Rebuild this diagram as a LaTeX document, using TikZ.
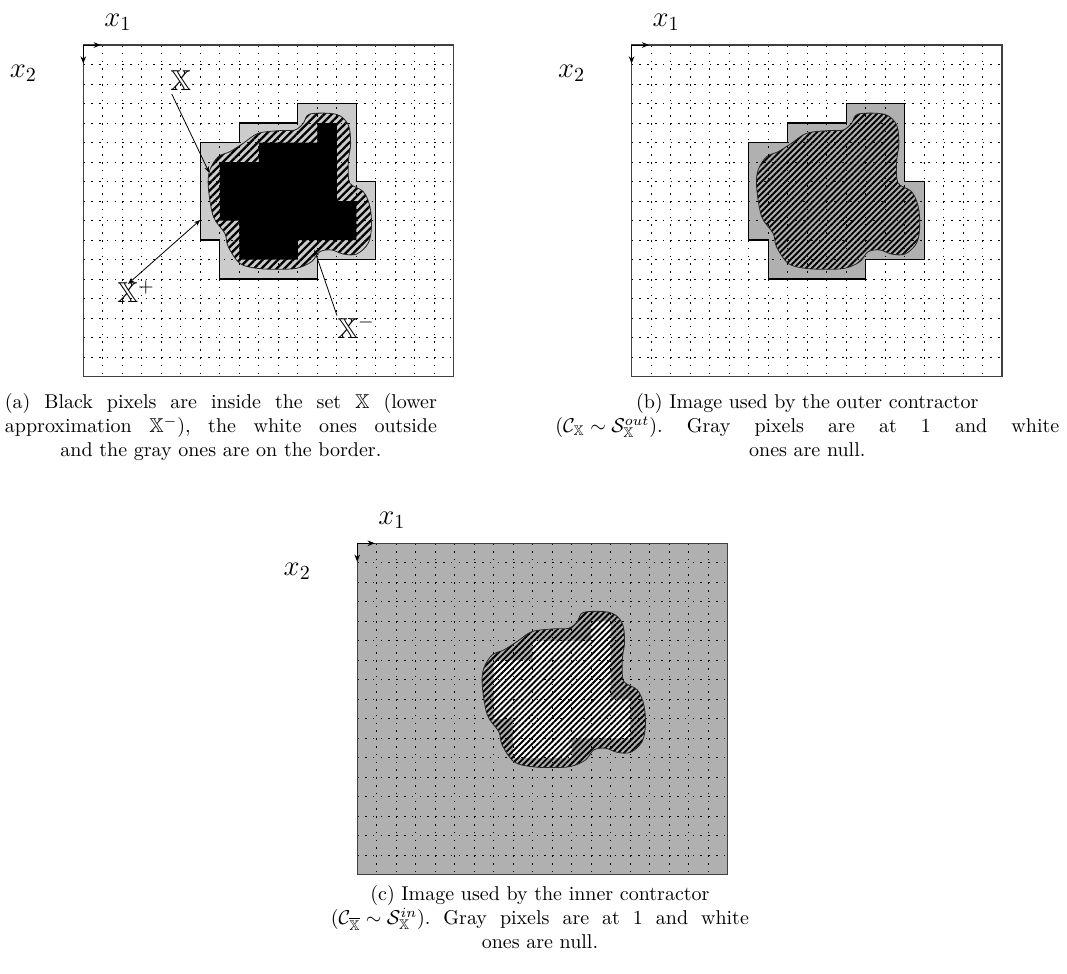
\documentclass[tikz,border=0pt]{standalone}
\usepackage{amsmath,amssymb}
\usepackage{xcolor}
\usepackage{tikz}
\usetikzlibrary{arrows.meta, patterns.meta}

\newcommand{\outerpix}{(11,3) -- (14,3) -- (14,7) -- (15,7) -- (15,11) -- (12,11) -- (12,12) -- (7,12) -- (7,10) -- (6,10) -- (6,5) -- (8,5) -- (8,4) -- (11,4) -- cycle}
\newcommand{\innerpix}{(12,4) -- (13,4) -- (13,8) -- (14,8) -- (14,10) -- (11,10) -- (11,11) -- (8,11) -- (8,9) -- (7,9) -- (7,6) -- (9,6) -- (9,5) -- (12,5) -- cycle}
\newcommand{\setblob}{plot[smooth cycle, tension=0.55] coordinates {(11.62,3.54) (12.99,3.56) (13.59,4.10) (13.71,5.04) (13.62,5.70) (13.59,6.24) (13.67,7.09) (14.36,7.52) (14.70,8.29) (14.78,9.32) (14.61,10.17) (14.02,10.72) (13.33,10.72) (12.73,10.51) (12.13,10.60) (11.71,11.11) (10.94,11.45) (9.90,11.50) (8.89,11.45) (8.03,11.20) (7.43,10.34) (7.26,9.66) (6.67,8.80) (6.41,7.27) (6.49,6.41) (6.92,5.73) (7.52,5.47) (8.20,5.04) (8.97,4.53) (10.09,4.39) (10.85,4.36) (11.28,4.02)}}

\begin{document}
\begin{tikzpicture}[x=9.75pt, y=-9.75pt,
  gridline/.style={line width=0.45pt, dash pattern=on 0.8pt off 3.1pt},
  frame/.style={draw=black!75, line width=0.65pt},
  axis/.style={-{Stealth[length=3.6pt, width=2.8pt]}, line width=0.5pt},
  pixedge/.style={draw=black, line width=0.55pt},
  hatch/.style={pattern={Lines[angle=45, distance=2.1pt, line width=0.95pt]}, draw=black!85, line width=0.4pt},
  coarsehatch/.style={pattern={Lines[angle=45, distance=2.7pt, line width=1.15pt]}, draw=black!85, line width=0.4pt},
  setlabel/.style={font=\Large, inner sep=0pt},
  pointer/.style={-{Stealth[length=3.2pt, width=2.4pt]}, line width=0.4pt},
  twoway/.style={{Stealth[length=3.2pt, width=2.4pt]}-{Stealth[length=3.2pt, width=2.4pt]}, line width=0.4pt},
  caption/.style={align=center, inner sep=0pt, anchor=north}
]
  \useasboundingbox (0,0) rectangle (54.72,49.90);

  % (a) pixels of the set
  \begin{scope}[shift={(4.272,2.308)}]
    \fill[black!20] \outerpix;
    \draw[pixedge] \outerpix;
    \draw[coarsehatch] \setblob;
    \fill[black] \innerpix;
  \end{scope}

  % (b) outer contractor
  \begin{scope}[shift={(32.39,2.308)}]
    \fill[black!31] \outerpix;
    \draw[pixedge] \outerpix;
    \draw[hatch] \setblob;
  \end{scope}

  % (c) inner contractor
  \begin{scope}[shift={(18.32,27.86)}]
    \fill[black!31] (0,0) rectangle (19,17);
    \fill[white] \innerpix;
    \draw[hatch] \setblob;
  \end{scope}

  % grid, frame and axes of each image
  \foreach \px/\py/\tag in {4.272/2.308/a, 32.39/2.308/b, 18.32/27.86/c}{
    \begin{scope}[shift={(\px,\py)}]
      \foreach \i in {1,...,18} \draw[gridline] (\i,0) -- (\i,17);
      \foreach \j in {1,...,16} \draw[gridline] (0,\j) -- (19,\j);
      \draw[frame] (0,0) rectangle (19,17);
      \coordinate (org\tag) at (0,0);
      \draw[axis] (org\tag) -- ++(0.9,0);
      \draw[axis] (org\tag) -- ++(0,0.95);
      \node[setlabel, anchor=base west] (xone\tag) at (1.06,-0.97) {$x_1$};
      \node[setlabel, anchor=base west] (xtwo\tag) at (-3.79,1.66) {$x_2$};
    \end{scope}
  }

  % labels of (a)
  \begin{scope}[shift={(4.272,2.308)}]
    \node[setlabel, anchor=base west] (setX) at (4.45,2.31) {$\mathbb{X}$};
    \node[setlabel, anchor=base west] (setXp) at (1.73,13.23) {$\mathbb{X}^{+}$};
    \node[setlabel, anchor=base west] (setXm) at (13.01,15.03) {$\mathbb{X}^{-}$};
    \coordinate (onblob) at (6.46,6.55);
    \coordinate (onouter) at (6,8.97);
    \coordinate (oninner) at (11.85,10.5);
    \draw[pointer, shorten <=2pt] (setX.south west) -- (onblob);
    \draw[twoway] ([xshift=5.5pt, yshift=-1.7pt]setXp.north west) -- (onouter);
    \draw[pointer] (setXm.north west) -- (oninner);
  \end{scope}

  \node[caption] (capa) at (11.33,20.15) {\makebox[216pt][s]{(a) Black pixels are inside the set $\mathbb{X}$ (lower}\\\makebox[216pt][s]{approximation \mbox{$\mathbb{X}^-$),} the white ones outside}\\and the gray ones are on the border.};
  \node[caption] (capb) at (41.40,20.15) {(b) Image used by the outer contractor\\\makebox[252pt][s]{\mbox{($\mathcal{C}_{\mathbb{X}}\sim\mathcal{S}_{\mathbb{X}}^{out}$).} Gray pixels are at 1 and white}\\ones are null.};
  \node[caption] (capc) at (27.69,45.38) {(c) Image used by the inner contractor\\\makebox[209pt][s]{\mbox{($\mathcal{C}_{\overline{\mathbb{X}}}\sim\mathcal{S}_{\mathbb{X}}^{in}$).} Gray pixels are at 1 and white}\\ones are null.};
\end{tikzpicture}
\end{document}
